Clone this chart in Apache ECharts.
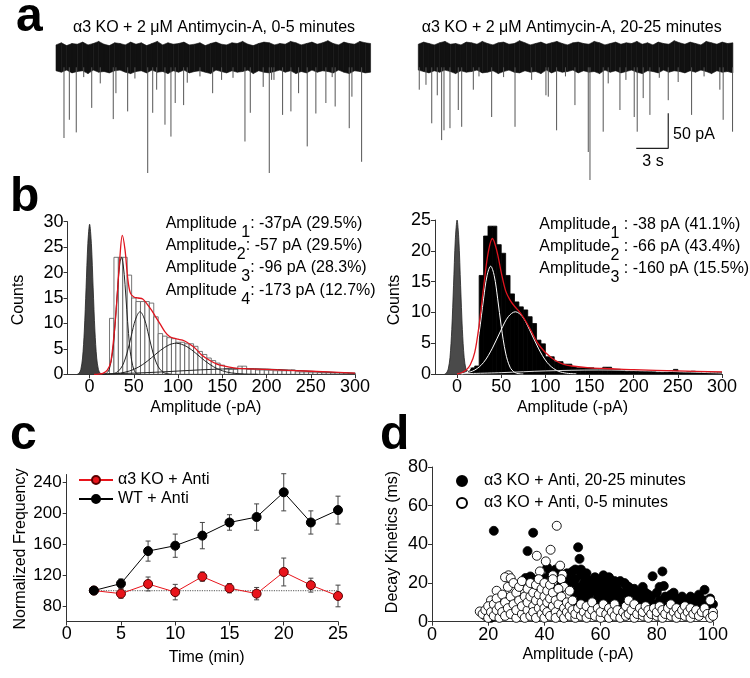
<!DOCTYPE html>
<html><head><meta charset="utf-8">
<script src="https://cdn.jsdelivr.net/npm/echarts@6/dist/echarts.min.js"></script>
<style>html,body{margin:0;padding:0;background:#fff}#c{width:750px;height:678px}</style>
</head><body><div id="c"></div>
<script>
const FONT = "'Liberation Sans', Arial, sans-serif";

// ---------- panel a : traces (time in s, current in pA) ----------
const traceStep = 0.5;
const traceUpA = [18,21,17,20,19,22,18,20,23,19, 17,21,20,18,22,19,21,17,20,23, 18,21,19,20,22,18,19,21,17,20, 22,19,18,21,20,23,19,17,20,22, 21,18,20,19,23,21,18,20,22,19, 21,24,20,18,22,20,19,23,21,20];
const traceLoA = [-19,-21,-18,-22,-20,-19,-23,-18,-21,-20, -22,-19,-18,-21,-23,-20,-19,-22,-18,-21, -20,-23,-19,-21,-18,-22,-20,-19,-21,-23, -18,-20,-22,-19,-21,-20,-18,-23,-19,-21, -22,-20,-18,-21,-19,-23,-20,-22,-18,-21, -19,-20,-22,-18,-21,-23,-19,-20,-22,-21];
const traceUpB = [19,22,20,18,21,23,19,20,18,22, 21,19,23,20,18,21,22,19,20,24, 21,18,20,22,19,21,23,20,18,21, 22,20,19,23,21,18,20,22,19,21, 20,23,19,21,18,22,20,19,24,21, 19,22,20,18,23,21,19,22,20,21];
const traceLoB = [-18,-20,-22,-19,-21,-18,-20,-23,-19,-21, -20,-18,-22,-21,-19,-23,-20,-18,-21,-22, -19,-21,-20,-23,-18,-22,-19,-21,-20,-18, -22,-19,-21,-20,-23,-18,-21,-19,-22,-20, -18,-21,-23,-19,-20,-22,-18,-21,-19,-20, -22,-19,-21,-18,-20,-23,-19,-21,-20,-22];
// [time s, amplitude pA (downward)]
const eventsA = [[0.75,115],[1.25,89],[1.9,107],[3.35,72],[4.15,37],[5.37,88],[5.62,51],[6.72,77],[8.6,165],[9.07,79],[9.44,46],[10.22,96],[10.78,113],[11.18,65],[11.97,68],[12.31,36],[14.69,51],[15.53,32],[17.72,120],[18.22,79],[19.43,42],[20.0,165],[20.22,32],[20.44,32],[21.25,82],[22.03,77],[22.75,51],[23.56,127],[24.37,80],[25.31,65],[26.18,70],[27.5,101],[27.75,56],[28.66,149],[2.6,28],[7.4,30],[13.5,27],[16.6,29],[25.9,28]];
const eventsB = [[0.09,46],[0.72,39],[1.26,94],[1.78,54],[2.19,118],[2.41,104],[2.97,101],[3.75,75],[4.07,99],[5.16,46],[5.69,27],[6.88,85],[9.07,99],[10.63,32],[11.97,54],[12.19,56],[12.97,104],[14.69,68],[15.94,135],[16.1,175],[17.34,106],[17.81,37],[18.91,75],[19.47,32],[20.25,85],[20.53,106],[21.09,58],[21.72,82],[23.44,61],[24.37,35],[25.63,82],[28.28,46],[28.59,89],[29.47,106],[8.0,28],[13.8,27],[22.6,29],[26.8,27]];
const scaleBarPts = [[20.44,-129.7],[23.44,-129.7],[23.44,-79.7]];

// ---------- panel b : amplitude histograms ----------
const binWidth = 5;
const histBinsL = [25,30,35,40,45,50,55,60,65,70,75,80,85,90,95,100,105,110,115,120,125,130,135,140,145,150,155,160,165,170,175,180,185,190,195,200,205,210,215,220,225,230,235,240,245,250,255,260,265,270,275,280,285,290,295,300];
const histCountsL = [11,23,23,23,19.5,15,14.3,14.3,14.3,14,11.3,8,7.5,7.2,7,6.3,6.3,6,6,5.5,4.5,3.9,3.2,2.7,2.2,1.8,1.1,1.0,1.0,1.6,1.6,1.0,1.0,0.85,0.85,0.8,0.8,0.7,0.7,0.7,0.7,0.85,0.5,0.45,0.45,0.4,0.4,0.35,0.3,0.3,0.25,0.25,0.25,0.25,0.2,0.2];
const histBinsR = [12.5,17.5,22.5,27.5,32.5,37.5,42.5,47.5,52.5,57.5,62.5,67.5,72.5,77.5,82.5,87.5,92.5,97.5,102.5,107.5,112.5,117.5,122.5,127.5,132.5,137.5,142.5,147.5,152.5,157.5,162.5,167.5,172.5,177.5,182.5,187.5,192.5,197.5,202.5,207.5,212.5,217.5,222.5,227.5,232.5,237.5,242.5,247.5,252.5,257.5,262.5,267.5,272.5,277.5,282.5,287.5,292.5,297.5];
const histCountsR = [0.5,1.0,1.3,16,22.4,24,24,21,19.6,16,13,11.7,10.9,10.4,9.3,8.2,5.5,4.9,2.8,2.8,2.0,2.0,1.6,1.6,1.2,1.0,1.0,1.0,1.0,0.86,0.86,1.1,1.1,0.75,0.75,0.6,0.45,0.45,0.45,0.4,0.4,0.45,0.4,0.3,0.27,0.3,0.5,0.75,0.3,0.27,0.4,0.45,0.3,0.3,0.25,0.3,0.27,0.27];
const histTicks = [0,50,100,150,200,250,300];

const noiseL = [[-14,0],[-12,0.2],[-10,0.9],[-8,3.2],[-6,8.5],[-4,17],[-2,25.7],[0,29.5],[2,25.7],[4,17],[6,8.5],[8,3.2],[10,0.9],[12,0.2],[14,0]];
const fitL1 = [[14,0],[18,0.1],[22,0.9],[26,4.4],[28,8.0],[30,12.7],[32,17.7],[34,21.5],[36,23],[38,21.5],[40,17.7],[42,12.7],[44,8.0],[46,4.4],[50,0.9],[54,0.1],[58,0]];
const fitL2 = [[27,0.14],[32,0.54],[37,1.66],[42,4.0],[47,7.5],[52,10.85],[57,12.3],[62,10.85],[67,7.5],[72,4.0],[77,1.66],[82,0.54],[87,0.14],[92,0.03]];
const fitL3 = [[15,0.01],[30,0.15],[40,0.41],[50,0.97],[60,1.92],[70,3.26],[80,4.7],[90,5.8],[98,6.1],[110,5.43],[120,4.14],[130,2.69],[140,1.49],[150,0.7],[160,0.28],[175,0.05],[190,0]];
const fitL4 = [[15,0.08],[20,0.1],[50,0.23],[75,0.41],[100,0.64],[125,0.87],[150,1.04],[173,1.1],[200,1.02],[225,0.83],[250,0.6],[275,0.38],[300,0.21]];
const fitLsum = [[5,0],[10,0.05],[15,0.2],[20,0.8],[24,2.5],[28,8.5],[31,15],[34,22.5],[37,27.3],[40,24.5],[43,19],[46,16],[50,15.2],[55,15],[60,14.8],[65,13.8],[70,12.6],[75,11.2],[80,9.8],[85,8.4],[90,7.5],[95,7.1],[100,6.9],[105,6.7],[110,6.3],[115,5.7],[120,5.0],[126,3.9],[135,2.8],[144,2.0],[150,1.7],[163,1.25],[175,1.1],[200,0.95],[250,0.6],[300,0.25]];

const noiseR = [[-14,0],[-12,0.17],[-10,0.8],[-8,2.7],[-6,7.2],[-4,14.4],[-2,21.8],[0,25],[2,21.8],[4,14.4],[6,7.2],[8,2.7],[10,0.8],[12,0.17],[14,0]];
const fitR1 = [[5,0],[10,0.2],[15,0.88],[20,2.8],[25,6.7],[30,12.2],[34,16],[38,17.5],[42,16],[46,12.2],[50,7.75],[55,3.4],[60,1.1],[65,0.28],[70,0.05],[75,0]];
const fitR2 = [[5,0.01],[10,0.17],[20,0.64],[30,1.87],[40,4.2],[50,7.2],[58,9.3],[66,10.1],[74,9.3],[82,7.2],[92,4.2],[102,1.87],[112,0.64],[122,0.17],[135,0.02]];
const fitR3 = [[0,0.02],[50,0.22],[100,0.5],[160,0.65],[220,0.5],[300,0.15]];
const fitRsum = [[0,0],[5,0.2],[10,0.6],[15,1.5],[20,3.5],[25,8],[30,14],[35,19.5],[40,22],[45,20],[50,16.5],[55,13.5],[60,12],[65,11],[70,10.2],[75,9.2],[80,8],[85,6.7],[90,5.3],[95,4.3],[100,3.5],[110,2.3],[120,1.6],[130,1.3],[150,1.0],[175,0.85],[200,0.7],[250,0.5],[300,0.35]];

// ---------- panel c : normalized frequency ----------
const timeMin = [2.5,5,7.5,10,12.5,15,17.5,20,22.5,25];
const wtMean = [100,109,151,158,171,188,195,227,188,204];
const wtErr  = [0,6,13,15,17,10,17,24,15,18];
const koMean = [100,96,108.5,98,118,103,96,124,107,93];
const koErr  = [0,6,9,10,6,6,8,18,9,14];
const baseline100 = [[2.5,100],[25,100]];
const cTicksY = [80,120,160,200,240];

// ---------- panel d : decay kinetics vs amplitude ----------
const dFilled = [[22,47],[36,46],[34,36.5],[52,38.5],[52.5,32.5],[53,27],[61,24],[63.5,21.5],[68.5,20],[78.5,23.5],[82,26],[74.5,16],[81,18],[82.5,18.5],[86,15],[97,16.5],[92,13],[95,13],[99,10.5],[41,28],[33.3,22.6],[35,23.4],[38,21],[39.6,22.6],
[44,22],[45,18],[46,24],[46,14],[47,20],[48,16],[48,25],[49,22],[49,12],[50,19],[50,26],[51,15],[51,22],[52,10],[52,18],[53,24],[53,13],[54,20],[54,16],[55,25],[55,11],[55,22],[56,18],[56,14],[57,21],[57,9],[58,16],[58,23],[59,12],[59,19],[60,21],[60,15],[61,10],[61,18],[62,13],[62,20],[63,16],[64,11],[64,18],[65,14],[66,17],[66,9],[67,12],[68,15],[69,19],[69,10],[70,13],[71,16],[72,11],[73,14],[74,9],[75,12],[76,15],[77,10],[78,13],[79,9],[80,15],[81,11],[83,13],[84,10],[85,14],[86,9],[87,12],[88,10],[89,13],[90,9],[91,11],[92,9],[93,12],[94,10],[95,14],[96,9],[97,11],[98,8],[99,12],[100,9],
[40,12],[42,16],[43,20],[41,9],[38,14],[39,18],[37,10],[36,22],[35,8],[44,10],[46,8],[48,6],[50,7],[53,6],[56,5],[58,7],[60,6],[63,5],[65,7],[68,6],[70,8],[72,5],[75,7],[78,6],[80,5],[83,7],[85,5],[88,6],[90,7],[93,5],[96,6],[99,7],[30,6],[32,10],[28,8],[25,5],[22,3],[21,2],[24,10],
[45,26],[47,23],[51,27],[54,25],[56,21],[58,19],[50,14],[47,11],[44,15],[43,12],[42,25],[44,27],[57,17],[59,15],[60,11],[62,17],[65,19],[67,21],[70,18],[72,17],[75,18],[77,14],[63,23],[65,21]];
const dOpen = [[44.4,49.6],[42.2,37.2],[37.3,34.1],[40.5,31.2],[38.4,26],[45.6,29],[27.2,24],[26,23],[28,22.5],[23,16],[17,5.3],[19,3],[21,11],[46.5,24.3],[43,20.8],[43,24],[46,22],[47,18],[48,14],[49,16],
[18,4],[19,6],[20,2],[20,8],[21,5],[22,9],[22,3],[23,12],[23,6],[24,2],[24,8],[25,14],[25,5],[26,10],[26,3],[27,18],[27,7],[28,13],[28,4],[29,9],[29,20],[30,2],[30,15],[30,6],[31,11],[31,18],[32,4],[32,8],[32,21],[33,13],[33,2],[34,6],[34,17],[34,10],[35,20],[35,3],[35,13],[36,8],[36,15],[36,5],[37,11],[37,19],[37,2],[38,7],[38,14],[38,22],[39,4],[39,10],[39,17],[40,2],[40,13],[40,20],[40,7],[41,5],[41,16],[41,10],[42,3],[42,12],[42,19],[43,8],[43,15],[43,22],[44,5],[44,11],[44,2],[45,9],[45,17],[46,4],[46,13],[47,7],[47,2],[48,10],[48,5],[49,3],[49,8],[50,6],[50,11],[51,2],[51,4],[52,7],[53,3],[53,9],[54,5],[55,2],[55,8],[56,4],[57,6],[57,10],[58,3],[59,7],[60,2],[60,5],[61,9],[62,4],[63,7],[63,2],[64,5],[65,3],[65,9],[66,6],[67,2],[68,5],[69,3],[69,8],[70,11],[70,4],[71,6],[72,2],[72,9],[73,4],[74,7],[75,3],[75,5],[76,8],[77,2],[77,6],[78,4],[79,7],[80,3],[80,5],[81,8],[82,2],[82,6],[83,4],[84,7],[85,3],[85,9],[86,5],[87,2],[87,7],[88,4],[89,6],[90,3],[90,8],[91,5],[92,2],[92,7],[93,4],[94,6],[95,3],[96,5],[97,7],[98,4],[99,11],[99,2],[100,5],[100,3]];

// ---------- render helpers ----------
function bandData(up, lo){ return up.map((u,i)=>[i*traceStep, u, lo[i]]); }
function bandRender(up, lo){
  return function(params, api){
    const i = params.dataIndex;
    if (i >= up.length-1) return {type:'group', children:[]};
    const t0 = api.value(0), t1 = t0 + traceStep;
    const pts = [api.coord([t0,up[i]]), api.coord([t1,up[i+1]]), api.coord([t1,lo[i+1]]), api.coord([t0,lo[i]])];
    return {type:'polygon', shape:{points:pts}, style:{fill:'#111', stroke:'#111', lineWidth:0.6}};
  };
}
function eventRender(params, api){
  const t = api.value(0), a = api.value(1);
  const p0 = api.coord([t,-14]), p1 = api.coord([t,-a]);
  return {type:'line', shape:{x1:p0[0],y1:p0[1],x2:p1[0],y2:p1[1]}, style:{stroke:'#555', lineWidth:1}};
}
function barRender(fill, stroke){
  return function(params, api){
    const c = api.value(0), n = api.value(1);
    const p0 = api.coord([c-binWidth/2, n]), p1 = api.coord([c+binWidth/2, 0]);
    return {type:'rect', shape:{x:p0[0], y:p0[1], width:p1[0]-p0[0], height:p1[1]-p0[1]}, style:{fill:fill, stroke:stroke, lineWidth:0.8}};
  };
}
function errRender(color){
  return function(params, api){
    const x = api.value(0), m = api.value(1), e = api.value(2);
    if (!e) return {type:'group', children:[]};
    const top = api.coord([x,m+e]), bot = api.coord([x,m-e]);
    const cw = 2.5, st = {stroke:color, lineWidth:1};
    return {type:'group', children:[
      {type:'line', shape:{x1:top[0],y1:top[1],x2:bot[0],y2:bot[1]}, style:st},
      {type:'line', shape:{x1:top[0]-cw,y1:top[1],x2:top[0]+cw,y2:top[1]}, style:st},
      {type:'line', shape:{x1:bot[0]-cw,y1:bot[1],x2:bot[0]+cw,y2:bot[1]}, style:st}
    ]};
  };
}
const zip3 = (a,b,c)=>a.map((v,i)=>[v,b[i],c[i]]);
const zip2 = (a,b)=>a.map((v,i)=>[v,b[i]]);

function visAxis(gi, extra, fs){
  return Object.assign({
    type:'value', gridIndex:gi,
    axisLine:{show:true, onZero:false, lineStyle:{color:'#333', width:1}},
    axisTick:{show:true, inside:false, length:4, lineStyle:{color:'#333'}},
    splitLine:{show:false},
    axisLabel:{color:'#000', fontFamily:FONT, fontSize:fs||18, margin:4}
  }, extra);
}
function hidAxis(gi, min, max){ return {type:'value', gridIndex:gi, min:min, max:max, show:false}; }
function fitLine(name, data, color, w, xi){
  return {type:'line', name:name, xAxisIndex:xi, yAxisIndex:xi, data:data, smooth:0.35, showSymbol:false, symbol:'none',
    lineStyle:{color:color, width:w}, silent:true, z:4};
}
function T(x, y, text, o){
  o = o || {};
  return {type:'text', x:x, y:y, rotation:o.rot||0, silent:true,
    style:{text:text, fontFamily:FONT, fontSize:o.fs||16, fontWeight:o.fw||'normal', fill:'#000',
      align:o.align||'center', verticalAlign:'middle', rich:o.rich}};
}
const richSub = {
  m:{fontFamily:FONT, fontSize:16, lineHeight:16, verticalAlign:'top'},
  s:{fontFamily:FONT, fontSize:16, lineHeight:34, verticalAlign:'middle'}
};

const option = {
  animation:false,
  backgroundColor:'#fff',
  textStyle:{fontFamily:FONT},
  grid:[
    {left:56, top:29.5, width:316.7, height:157.5},
    {left:418.3, top:29.5, width:316.7, height:157.5},
    {left:67.5, top:221.7, width:287.5, height:152.6},
    {left:435, top:220, width:287, height:154},
    {left:66.7, top:474.5, width:271.3, height:147},
    {left:432, top:467, width:281, height:154.7}
  ],
  xAxis:[
    hidAxis(0, 0, 29.7),
    hidAxis(1, 0, 29.7),
    visAxis(2, {min:-25, max:300, axisTick:{show:true, length:4, lineStyle:{color:'#333'}, customValues:histTicks},
      axisLabel:{color:'#000', fontFamily:FONT, fontSize:18, margin:4, customValues:histTicks}}),
    visAxis(3, {min:-25, max:300, axisTick:{show:true, length:4, lineStyle:{color:'#333'}, customValues:histTicks},
      axisLabel:{color:'#000', fontFamily:FONT, fontSize:18, margin:4, customValues:histTicks}}),
    visAxis(4, {min:0, max:25, interval:5}),
    visAxis(5, {min:0, max:100, interval:20})
  ],
  yAxis:[
    hidAxis(0, -185, 40),
    hidAxis(1, -185, 40),
    visAxis(2, {min:0, max:30, interval:5}),
    visAxis(3, {min:0, max:25, interval:5}),
    visAxis(4, {min:60, max:250, axisTick:{show:true, length:4, lineStyle:{color:'#333'}, customValues:cTicksY},
      axisLabel:{color:'#000', fontFamily:FONT, fontSize:17, margin:5, customValues:cTicksY}}),
    visAxis(5, {min:0, max:80, interval:20})
  ],
  legend:[
    {left:73, top:466, orient:'vertical', itemWidth:34, itemHeight:10, itemGap:1, selectedMode:false,
      data:['α3 KO + Anti','WT + Anti'],
      textStyle:{fontFamily:FONT, fontSize:16, color:'#000', lineHeight:18}},
    {left:451, top:467, orient:'vertical', itemWidth:10, itemHeight:10, itemGap:4, selectedMode:false,
      data:['α3 KO + Anti, 20-25 minutes','α3 KO + Anti, 0-5 minutes'],
      textStyle:{fontFamily:FONT, fontSize:16, color:'#000', lineHeight:18, padding:[0,0,0,12]}}
  ],
  series:[
    // panel a
    {type:'custom', xAxisIndex:0, yAxisIndex:0, data:bandData(traceUpA, traceLoA), renderItem:bandRender(traceUpA, traceLoA), silent:true},
    {type:'custom', xAxisIndex:0, yAxisIndex:0, data:eventsA, renderItem:eventRender, silent:true},
    {type:'custom', xAxisIndex:1, yAxisIndex:1, data:bandData(traceUpB, traceLoB), renderItem:bandRender(traceUpB, traceLoB), silent:true},
    {type:'custom', xAxisIndex:1, yAxisIndex:1, data:eventsB, renderItem:eventRender, silent:true},
    {type:'line', xAxisIndex:1, yAxisIndex:1, data:scaleBarPts, symbol:'none', lineStyle:{color:'#222', width:1.2}, silent:true},
    // panel b left
    {type:'custom', xAxisIndex:2, yAxisIndex:2, data:zip2(histBinsL, histCountsL), renderItem:barRender('#fff','#555'), clip:true, silent:true},
    {type:'line', xAxisIndex:2, yAxisIndex:2, data:noiseL, smooth:0.3, symbol:'none', lineStyle:{color:'#222', width:0.8},
      areaStyle:{color:'#404040', opacity:1}, silent:true, z:3},
    fitLine('g1', fitL1, '#222', 1, 2), fitLine('g2', fitL2, '#222', 1, 2), fitLine('g3', fitL3, '#222', 1, 2), fitLine('g4', fitL4, '#222', 1, 2),
    Object.assign(fitLine('sum', fitLsum, '#e0141e', 1.3, 2), {z:5}),
    // panel b right
    {type:'custom', xAxisIndex:3, yAxisIndex:3, data:zip2(histBinsR, histCountsR), renderItem:barRender('#000','#000'), clip:true, silent:true},
    {type:'line', xAxisIndex:3, yAxisIndex:3, data:noiseR, smooth:0.3, symbol:'none', lineStyle:{color:'#222', width:0.8},
      areaStyle:{color:'#4a4a4a', opacity:1}, silent:true, z:3},
    fitLine('h1', fitR1, '#fff', 1, 3), fitLine('h2', fitR2, '#fff', 1, 3), fitLine('h3', fitR3, '#ddd', 1, 3),
    Object.assign(fitLine('hsum', fitRsum, '#e0141e', 1.3, 3), {z:5}),
    // panel c
    {type:'line', xAxisIndex:4, yAxisIndex:4, data:baseline100, symbol:'none', lineStyle:{color:'#777', width:1.2, type:'dotted'}, silent:true, z:1},
    {type:'custom', xAxisIndex:4, yAxisIndex:4, data:zip3(timeMin, koMean, koErr), renderItem:errRender('#444'), silent:true, z:2},
    {type:'line', name:'α3 KO + Anti', xAxisIndex:4, yAxisIndex:4, data:zip2(timeMin, koMean), symbol:'circle', symbolSize:9,
      itemStyle:{color:'#e8141b', borderColor:'#5a0000', borderWidth:1, opacity:1}, lineStyle:{color:'#e8141b', width:1}, z:3},
    {type:'custom', xAxisIndex:4, yAxisIndex:4, data:zip3(timeMin, wtMean, wtErr), renderItem:errRender('#444'), silent:true, z:2},
    {type:'line', name:'WT + Anti', xAxisIndex:4, yAxisIndex:4, data:zip2(timeMin, wtMean), symbol:'circle', symbolSize:9,
      itemStyle:{color:'#000', borderColor:'#000', borderWidth:1, opacity:1}, lineStyle:{color:'#000', width:1}, z:4},
    // panel d
    {type:'scatter', name:'α3 KO + Anti, 20-25 minutes', xAxisIndex:5, yAxisIndex:5, data:dFilled, symbolSize:9,
      itemStyle:{color:'#000', borderColor:'#000', borderWidth:0.8, opacity:1}, emphasis:{disabled:true}, z:2},
    {type:'scatter', name:'α3 KO + Anti, 0-5 minutes', xAxisIndex:5, yAxisIndex:5, data:dOpen, symbolSize:9,
      itemStyle:{color:'#fff', borderColor:'#000', borderWidth:0.9, opacity:1}, emphasis:{disabled:true}, z:3}
  ],
  graphic:{elements:[
    T(16, 18.2, 'a', {fs:48, fw:'bold', align:'left'}),
    T(10, 198, 'b', {fs:48, fw:'bold', align:'left'}),
    T(10, 435.7, 'c', {fs:48, fw:'bold', align:'left'}),
    T(380, 436, 'd', {fs:48, fw:'bold', align:'left'}),
    T(214, 28, 'α3 KO + 2 μM Antimycin-A, 0-5 minutes'),
    T(571.7, 28, 'α3 KO + 2 μM Antimycin-A, 20-25 minutes'),
    T(673, 135, '50 pA', {align:'left'}),
    T(653, 161.7, '3 s'),
    T(165.7, 232.3, '{m|Amplitude }{s|1}{m|: -37pA (29.5%)}', {align:'left', rich:richSub}),
    T(165.7, 254.6, '{m|Amplitude}{s|2}{m|: -57 pA (29.5%)}', {align:'left', rich:richSub}),
    T(165.7, 276.9, '{m|Amplitude }{s|3}{m|: -96 pA (28.3%)}', {align:'left', rich:richSub}),
    T(165.7, 299.2, '{m|Amplitude }{s|4}{m|: -173 pA (12.7%)}', {align:'left', rich:richSub}),
    T(539.3, 234, '{m|Amplitude}{s|1}{m| : -38 pA (41.1%)}', {align:'left', rich:richSub}),
    T(539.3, 255.7, '{m|Amplitude}{s|2}{m| : -66 pA (43.4%)}', {align:'left', rich:richSub}),
    T(539.3, 277.3, '{m|Amplitude}{s|3}{m| : -160 pA (15.5%)}', {align:'left', rich:richSub}),
    T(205.8, 408, 'Amplitude (-pA)'),
    T(572.5, 408, 'Amplitude (-pA)'),
    T(19, 300, 'Counts', {rot:Math.PI/2}),
    T(395, 300, 'Counts', {rot:Math.PI/2}),
    T(206.7, 658, 'Time (min)'),
    T(21, 549, 'Normalized Frequency', {rot:Math.PI/2}),
    T(578, 655, 'Amplitude (-pA)'),
    T(393, 542, 'Decay Kinetics (ms)', {rot:Math.PI/2})
  ]}
};
const chart = echarts.init(document.getElementById('c'), null, {renderer:'canvas'});
chart.setOption(option);
</script></body></html>
